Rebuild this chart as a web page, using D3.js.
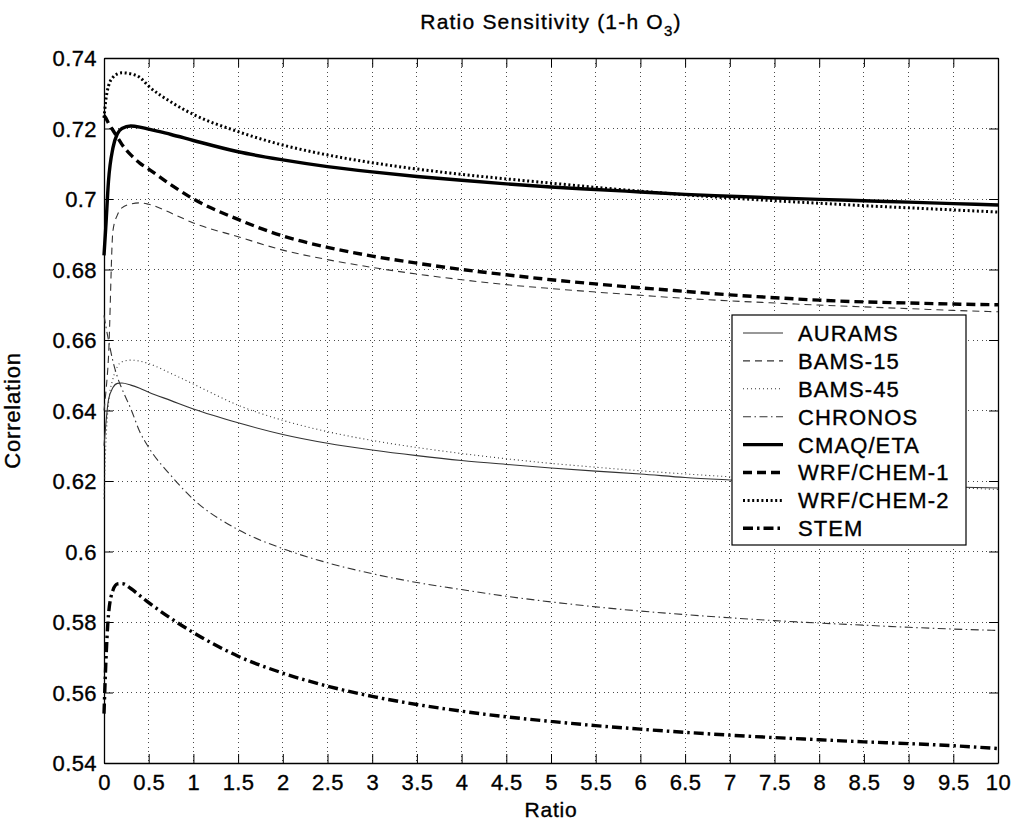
<!DOCTYPE html>
<html>
<head>
<meta charset="utf-8">
<script src="https://cdn.jsdelivr.net/npm/d3@7"></script>
<style>
  html, body { margin: 0; padding: 0; background: #fff; }
  svg { display: block; font-family: "Liberation Sans", Arial, Helvetica, sans-serif; }
  svg text { fill: #000; stroke: #000; stroke-width: 0.35px; }
</style>
</head>
<body>
<svg id="chart" width="1014" height="828"></svg>
<script>
// Ratio values at which correlation was evaluated
const ratios = [0, 0.02, 0.05, 0.1, 0.15, 0.2, 0.3, 0.4, 0.5, 0.75, 1, 1.5, 2, 2.5, 3, 3.5, 4, 4.5, 5, 5.5, 6, 6.5, 7, 7.5, 8, 8.5, 9, 9.5, 10];

// Correlation per model, one value per ratio
const aurams   = [0.630, 0.636, 0.643, 0.6465, 0.6477, 0.6478, 0.6472, 0.6463, 0.6452, 0.6428, 0.6404, 0.6365, 0.6332, 0.6307, 0.6288, 0.6272, 0.6258, 0.6247, 0.6237, 0.6228, 0.6220, 0.6210, 0.6203, 0.6197, 0.6192, 0.6189, 0.6186, 0.6183, 0.6180];
const bams15   = [0.640, 0.645, 0.655, 0.691, 0.6955, 0.6975, 0.6986, 0.6989, 0.6985, 0.6960, 0.6932, 0.6893, 0.6855, 0.6828, 0.6806, 0.6787, 0.6771, 0.6757, 0.6746, 0.6736, 0.6727, 0.6718, 0.6711, 0.6705, 0.6699, 0.6694, 0.6689, 0.6684, 0.6680];
const bams45   = [0.615, 0.630, 0.642, 0.649, 0.6525, 0.6538, 0.6543, 0.6540, 0.6533, 0.6505, 0.6475, 0.6415, 0.6372, 0.6340, 0.6315, 0.6295, 0.6278, 0.6263, 0.6250, 0.6239, 0.6229, 0.6220, 0.6212, 0.6205, 0.6198, 0.6192, 0.6186, 0.6181, 0.6176];
const chronos  = [0.667, 0.664, 0.660, 0.654, 0.6495, 0.6462, 0.6405, 0.6340, 0.6295, 0.6215, 0.6148, 0.6062, 0.6008, 0.5968, 0.5937, 0.5912, 0.5892, 0.5873, 0.5857, 0.5843, 0.5831, 0.5821, 0.5812, 0.5804, 0.5797, 0.5791, 0.5785, 0.5780, 0.5776];
const cmaqEta  = [0.684, 0.692, 0.705, 0.7145, 0.7185, 0.7200, 0.7207, 0.7204, 0.7198, 0.7183, 0.7166, 0.7134, 0.7111, 0.7092, 0.7077, 0.7064, 0.7053, 0.7043, 0.7034, 0.7027, 0.7020, 0.7013, 0.7008, 0.7003, 0.6999, 0.6995, 0.6991, 0.6987, 0.6983];
const wrfChem1 = [0.7238, 0.7230, 0.7215, 0.7195, 0.7175, 0.7155, 0.7125, 0.7102, 0.7085, 0.7040, 0.7000, 0.6942, 0.6895, 0.6863, 0.6838, 0.6818, 0.6800, 0.6785, 0.6771, 0.6759, 0.6748, 0.6738, 0.6728, 0.6720, 0.6713, 0.6708, 0.6705, 0.6702, 0.6700];
const wrfChem2 = [0.723, 0.728, 0.732, 0.7345, 0.7355, 0.7358, 0.7355, 0.7345, 0.7320, 0.7275, 0.7240, 0.7191, 0.7153, 0.7125, 0.7103, 0.7085, 0.7070, 0.7057, 0.7045, 0.7033, 0.7022, 0.7012, 0.7003, 0.6995, 0.6988, 0.6981, 0.6975, 0.6969, 0.6963];
const stem     = [0.554, 0.568, 0.582, 0.589, 0.5908, 0.5909, 0.5895, 0.5875, 0.5855, 0.5810, 0.5770, 0.5703, 0.5655, 0.5618, 0.5589, 0.5566, 0.5547, 0.5531, 0.5518, 0.5506, 0.5496, 0.5487, 0.5479, 0.5472, 0.5466, 0.5460, 0.5455, 0.5449, 0.5441];

const seriesNames = ["AURAMS", "BAMS-15", "BAMS-45", "CHRONOS", "CMAQ/ETA", "WRF/CHEM-1", "WRF/CHEM-2", "STEM"];
const seriesValues = [aurams, bams15, bams45, chronos, cmaqEta, wrfChem1, wrfChem2, stem];

// Axis ticks and their labels
const xTicks = d3.range(0, 10.001, 0.5).map(v => +v.toFixed(1));
const xTickLabels = ["0", "0.5", "1", "1.5", "2", "2.5", "3", "3.5", "4", "4.5", "5", "5.5", "6", "6.5", "7", "7.5", "8", "8.5", "9", "9.5", "10"];
const yTicks = [0.54, 0.56, 0.58, 0.60, 0.62, 0.64, 0.66, 0.68, 0.70, 0.72, 0.74];
const yTickLabels = ["0.54", "0.56", "0.58", "0.6", "0.62", "0.64", "0.66", "0.68", "0.7", "0.72", "0.74"];

// Line styles per series (width, dash pattern, colour)
const styles = [
  { w: 1.1, dash: null,            color: "#333" },
  { w: 1.1, dash: "7,5",           color: "#333" },
  { w: 1.1, dash: "1,3",           color: "#333" },
  { w: 1.1, dash: "8,3.5,1.5,3.5", color: "#333" },
  { w: 3.4, dash: null,            color: "#000" },
  { w: 3.4, dash: "9,5",           color: "#000" },
  { w: 3.0, dash: "2,2.6",         color: "#000" },
  { w: 3.4, dash: "10,4,2.5,4",    color: "#000" }
];

const svg = d3.select("#chart");
const plotLeft = 104, plotRight = 998, plotTop = 58, plotBottom = 763;

const x = d3.scaleLinear().domain([0, 10]).range([plotLeft, plotRight]);
const y = d3.scaleLinear().domain([0.54, 0.74]).range([plotBottom, plotTop]);

// Plot background
svg.append("rect").attr("x", plotLeft).attr("y", plotTop)
  .attr("width", plotRight - plotLeft).attr("height", plotBottom - plotTop).attr("fill", "#fff");

// Dotted grid
const grid = svg.append("g").attr("class", "grid");
grid.selectAll("line.gx").data(xTicks.slice(1, -1)).join("line")
  .attr("class", "gx")
  .attr("x1", d => x(d)).attr("x2", d => x(d))
  .attr("y1", plotTop).attr("y2", plotBottom);
grid.selectAll("line.gy").data(yTicks.slice(1, -1)).join("line")
  .attr("class", "gy")
  .attr("x1", plotLeft).attr("x2", plotRight)
  .attr("y1", d => y(d)).attr("y2", d => y(d));
grid.selectAll("line")
  .attr("stroke", "#000").attr("stroke-width", 1)
  .attr("stroke-dasharray", "1,3.5").attr("opacity", 0.7)
  .attr("shape-rendering", "crispEdges");

// Axes (ticks drawn inward on all four sides)
const tickLen = 9;
const fmtX = d => xTickLabels[xTicks.indexOf(d)];
const fmtY = d => yTickLabels[yTicks.findIndex(t => Math.abs(t - d) < 1e-9)];

const gBottom = svg.append("g").attr("transform", `translate(0,${plotBottom})`)
  .call(d3.axisBottom(x).tickValues(xTicks).tickFormat(fmtX).tickSizeInner(-tickLen).tickSizeOuter(0).tickPadding(11));
const gTop = svg.append("g").attr("transform", `translate(0,${plotTop})`)
  .call(d3.axisTop(x).tickValues(xTicks).tickFormat("").tickSizeInner(-tickLen).tickSizeOuter(0));
const gLeft = svg.append("g").attr("transform", `translate(${plotLeft},0)`)
  .call(d3.axisLeft(y).tickValues(yTicks).tickFormat(fmtY).tickSizeInner(-tickLen).tickSizeOuter(0).tickPadding(7));
const gRight = svg.append("g").attr("transform", `translate(${plotRight},0)`)
  .call(d3.axisRight(y).tickValues(yTicks).tickFormat("").tickSizeInner(-tickLen).tickSizeOuter(0));

[gBottom, gTop, gLeft, gRight].forEach(g => {
  g.select(".domain").attr("stroke", "#000").attr("stroke-width", 1.3);
  g.selectAll(".tick line").attr("stroke", "#000").attr("stroke-width", 1);
  g.selectAll("text")
    .attr("font-family", "'Liberation Sans', Arial, sans-serif")
    .attr("font-size", 22).attr("letter-spacing", 0.4);
});
gBottom.selectAll("text").attr("dy", "0.71em");
gLeft.selectAll("text").attr("dy", "0.36em");

// Series curves
const line = d3.line()
  .x((d, i) => x(ratios[i]))
  .y(d => y(d))
  .curve(d3.curveMonotoneX);

const plot = svg.append("g");
seriesValues.forEach((vals, k) => {
  const s = styles[k];
  plot.append("path")
    .datum(vals)
    .attr("d", line)
    .attr("fill", "none")
    .attr("stroke", s.color)
    .attr("stroke-width", s.w)
    .attr("stroke-dasharray", s.dash)
    .attr("stroke-linejoin", "round");
});

// Legend
const lg = { x0: 732, y0: 315, w: 234, h: 230, rowTop: 333, rowStep: 27.9 };
const legend = svg.append("g");
legend.append("rect")
  .attr("x", lg.x0).attr("y", lg.y0).attr("width", lg.w).attr("height", lg.h)
  .attr("fill", "#fff").attr("stroke", "#000").attr("stroke-width", 1.2);
seriesNames.forEach((name, k) => {
  const s = styles[k];
  const ry = lg.rowTop + k * lg.rowStep;
  legend.append("line")
    .attr("x1", 743).attr("x2", 783).attr("y1", ry).attr("y2", ry)
    .attr("stroke", s.color).attr("stroke-width", s.w)
    .attr("stroke-dasharray", s.dash);
  legend.append("text")
    .attr("x", 798).attr("y", ry).attr("dy", "0.36em")
    .attr("font-size", 22).attr("letter-spacing", 1.1)
    .text(name);
});

// Title with subscript
const title = svg.append("text")
  .attr("x", (plotLeft + plotRight) / 2).attr("y", 29)
  .attr("text-anchor", "middle").attr("font-size", 21).attr("letter-spacing", 1.2);
title.append("tspan").text("Ratio Sensitivity (1-h O");
title.append("tspan").attr("font-size", 15).attr("dy", 7).text("3");
title.append("tspan").attr("dy", -7).text(")");

// Axis titles
svg.append("text")
  .attr("x", (plotLeft + plotRight) / 2).attr("y", 817)
  .attr("text-anchor", "middle").attr("font-size", 21).attr("letter-spacing", 0.8)
  .text("Ratio");
svg.append("text")
  .attr("transform", `translate(20,${(plotTop + plotBottom) / 2}) rotate(-90)`)
  .attr("text-anchor", "middle").attr("font-size", 22).attr("letter-spacing", 0.8)
  .text("Correlation");
</script>
</body>
</html>
